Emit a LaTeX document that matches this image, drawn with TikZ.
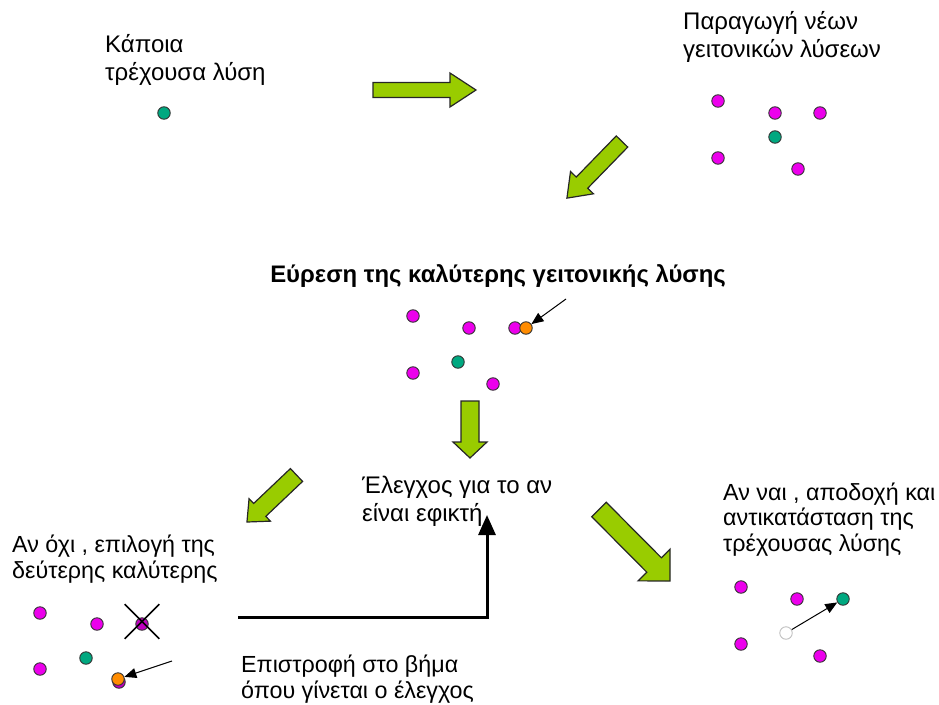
\documentclass[tikz,border=0pt]{standalone}
\usepackage{fontspec}
\setmainfont{Liberation Sans}
\usepackage{xcolor}
\usepackage{tikz}
\usetikzlibrary{arrows.meta}
\usetikzlibrary{shapes.misc}

\definecolor{nbrpink}{RGB}{236,0,236}
\definecolor{crosspink}{RGB}{190,0,190}
\definecolor{curteal}{RGB}{0,168,128}
\definecolor{bestorange}{RGB}{255,140,0}
\definecolor{arrowgreen}{RGB}{153,204,0}

\tikzset{
  lbl/.style={font=\fontsize{23.3}{25.5}\selectfont, align=left, inner sep=0pt, anchor=base west},
  toplbl/.style={lbl, font=\fontsize{24}{28}\selectfont},
  dot/.style={circle, draw=black!80, line width=0.9pt, inner sep=0pt, minimum size=12.5pt},
  nbr/.style={dot, fill=nbrpink},
  cur/.style={dot, fill=curteal},
  best/.style={dot, fill=bestorange},
  pointer/.style={line width=1pt, -{Triangle[length=12pt,width=10pt]}},
  backarrow/.style={line width=3pt, -{Triangle[length=20pt,width=17pt]}},
  blockarrow/.style={draw=black!85, line width=1.2pt, fill=arrowgreen, line join=miter},
  % length, shaft width, head width, head length
  pics/bigarrow/.style n args={4}{code={
    \draw[blockarrow] (0,{-#2/2}) -- ({#1-#4},{-#2/2}) -- ({#1-#4},{-#3/2}) -- (#1,0)
      -- ({#1-#4},{#3/2}) -- ({#1-#4},{#2/2}) -- (0,{#2/2}) -- cycle;
  }},
}

\begin{document}
\begin{tikzpicture}[x=1pt, y=-1pt]
  \useasboundingbox (0,0) rectangle (939,704);

  % --- Step 1: current solution ---
  \node[toplbl] (start) at (105,80) {Κάποια\\τρέχουσα λύση};
  \node[cur] (s0) at (164,113) {};

  \pic (a1) at (373,90) {bigarrow={103}{15}{34}{26}};

  % --- Step 2: neighbours ---
  \node[toplbl] (gen) at (683,57) {Παραγωγή νέων\\γειτονικών λύσεων};
  \node[nbr] (g1) at (718,101) {};
  \node[nbr] (g2) at (775,113) {};
  \node[nbr] (g3) at (820,113) {};
  \node[cur] (g0) at (775,137) {};
  \node[nbr] (g4) at (718,158) {};
  \node[nbr] (g5) at (798,169) {};

  \pic[rotate=-134.2] (a2) at (622,141.5) {bigarrow={79}{16}{32}{21.6}};

  % --- Step 3: best neighbour ---
  \node[lbl, anchor=base, font=\fontsize{23.9}{25.5}\selectfont\bfseries] (find) at (498,282)
    {Εύρεση της καλύτερης γειτονικής λύσης};
  \node[nbr] (b1) at (413,316) {};
  \node[nbr] (b2) at (469,328) {};
  \node[nbr] (b3) at (515,328) {};
  \node[best] (bb) at (526,328) {};
  \node[cur] (b0) at (458,362) {};
  \node[nbr] (b4) at (413,373) {};
  \node[nbr] (b5) at (493,384) {};
  \coordinate (bptr) at (566,299);
  \draw[pointer] (bptr) -- (bb);

  \pic[rotate=-90] (a3) at (470,401) {bigarrow={57}{18}{34}{16}};

  % --- Step 4: feasibility check ---
  \node[toplbl] (check) at (362,521) {Έλεγχος για το αν\\είναι εφικτή};

  \pic[rotate=-136.5] (a4) at (296.5,475) {bigarrow={68.3}{17.7}{31}{17.6}};
  \pic[rotate=-45.2] (a5) at (599,509.5) {bigarrow={100.8}{20.5}{45}{22.6}};

  % --- Left: not feasible ---
  \node[lbl] (no) at (12,578) {Αν όχι , επιλογή της\\δεύτερης καλύτερης};
  \node[nbr] (l1) at (40,613) {};
  \node[nbr] (l2) at (97,624) {};
  \node[dot, fill=crosspink] (lx) at (142,624) {};
  \node[draw, cross out, line width=1.6pt, minimum size=33pt, inner sep=0pt] (lxx) at (142,621.5) {};
  \node[cur] (l0) at (86,658) {};
  \node[nbr] (l3) at (40,669) {};
  \node[dot, fill=crosspink] (l4) at (119,682) {};
  \node[best] (lb) at (118,679) {};
  \coordinate (lptr) at (172,661);
  \draw[pointer] (lptr) -- (lb);

  % back to the check
  \node[lbl] (back) at (241,698) {Επιστροφή στο βήμα\\όπου γίνεται ο έλεγχος};
  \coordinate (backstart) at (238,617);
  \coordinate (backend) at (487,515);
  \draw[backarrow] (backstart) -| (backend);

  % --- Right: feasible ---
  \node[lbl] (yes) at (723,551) {Αν ναι , αποδοχή και\\αντικατάσταση της\\τρέχουσας λύσης};
  \node[nbr] (r1) at (741,587) {};
  \node[nbr] (r2) at (797,599) {};
  \node[cur] (r0) at (843,599) {};
  \node[dot, draw=black!25, fill=white] (rold) at (786,633) {};
  \node[nbr] (r3) at (741,644) {};
  \node[nbr] (r4) at (820,656) {};
  \draw[pointer] (rold) -- (r0);
\end{tikzpicture}
\end{document}
